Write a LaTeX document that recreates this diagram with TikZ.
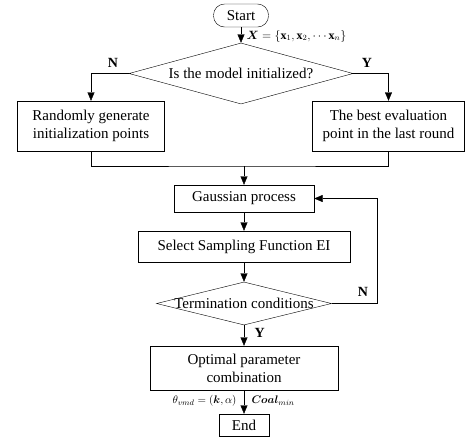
\documentclass[tikz,border=0pt]{standalone}
\usepackage{amsmath,amssymb}
\usepackage{fontspec}
\setmainfont{Liberation Serif}
\usetikzlibrary{shapes.geometric, arrows.meta, positioning}

\begin{document}
\begin{tikzpicture}[
  x=1pt, y=-1pt,
  font=\fontsize{15}{18}\selectfont,
  box/.style={draw, align=center, inner sep=0pt},
  decision/.style={draw, diamond, inner sep=0pt, align=center},
  flow/.style={thin, -{Triangle[length=8.5pt, width=7pt]}},
  link/.style={thin},
  lab/.style={font=\fontsize{14}{16}\selectfont\bfseries},
]
\useasboundingbox (0,0) rectangle (465,437);

% Start and first decision
\node[box, rounded corners=11pt, minimum width=55pt, minimum height=23pt] (start) at (241,15.5) {Start};
\node[decision, aspect=3.67, minimum width=224pt, minimum height=61pt] (init) at (241,73.5) {Is the model initialized?};
\draw[flow] (start) -- (init);
\node[anchor=west, font=\fontsize{12}{14}\selectfont] (xset) at (243,36) {$\boldsymbol{X}=\{\mathbf{x}_1,\mathbf{x}_2,\cdots\mathbf{x}_n\}$};

% Initialization branches
\node[box, minimum width=147pt, minimum height=50pt] (rand) at (91,126) {Randomly generate\\initialization points};
\node[box, minimum width=152pt, minimum height=50pt] (best) at (388.5,126) {The best evaluation\\point in the last round};
\draw[flow] (init.west) -| (rand.north);
\draw[flow] (init.east) -| (best.north);
\node[lab] (nlab) at (113,63) {N};
\node[lab] (ylab) at (367,63) {Y};

% Merge
\coordinate (merge) at (244,166);
\draw[link] (rand.south) |- (merge) -| (best.south);

% Optimization loop
\node[box, minimum width=140pt, minimum height=27pt] (gp) at (244,198.5) {Gaussian process};
\node[box, minimum width=212pt, minimum height=31pt] (sel) at (244,246.5) {Select Sampling Function EI};
\node[decision, aspect=4.07, inner ysep=-3pt, minimum width=175pt, minimum height=43pt] (term) at (244,303.5) {Termination conditions};
\draw[flow] (merge) -- (gp);
\draw[flow] (gp) -- (sel);
\draw[flow] (sel) -- (term);
\coordinate (loop) at (377,198.5);
\draw[flow] (term.east) -| (loop) -- (gp.east);
\node[lab] (nlab2) at (363,292) {N};

% Result
\node[box, minimum width=188pt, minimum height=44pt] (opt) at (244,368) {Optimal parameter\\combination};
\node[box, minimum width=50pt, minimum height=22pt] (stop) at (244,425) {End};
\draw[flow] (term) -- (opt);
\draw[flow] (opt) -- (stop);
\node[lab, anchor=west] (ylab2) at (251,333) {Y};
\node[anchor=east, font=\fontsize{11}{13}\selectfont] (theta) at (240,401) {$\theta_{vmd}=(\boldsymbol{k},\alpha)$};
\node[anchor=west, font=\fontsize{11}{13}\selectfont] (coal) at (248,401) {$\boldsymbol{Coal}_{min}$};
\end{tikzpicture}
\end{document}
